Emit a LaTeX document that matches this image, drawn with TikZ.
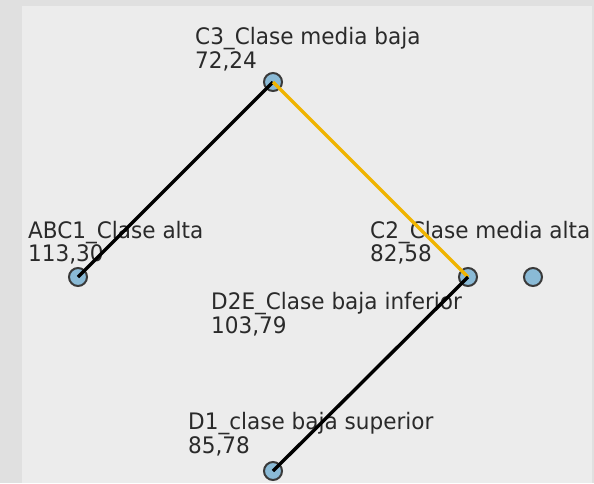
\documentclass[tikz,border=0pt]{standalone}
\usepackage{fontspec}
\setmainfont{DejaVu Sans}
\newfontfamily\lblfont[FakeStretch=0.95]{DejaVu Sans}
\definecolor{outerbg}{HTML}{E0E0E0}
\definecolor{innerbg}{HTML}{ECECEC}
\definecolor{dotfill}{HTML}{8ABAD6}
\definecolor{dotline}{HTML}{3A3A3A}
\definecolor{linkyellow}{HTML}{F0B400}
\definecolor{labeltext}{HTML}{2A2A2A}
\tikzset{
  dot/.style={circle, draw=dotline, line width=2pt, fill=dotfill, minimum size=18pt, inner sep=0pt},
  lbl/.style={anchor=north west, inner sep=0pt, align=left, text=labeltext,
    font=\lblfont\fontsize{22.7}{22}\selectfont},
  blacklink/.style={line width=3.4pt, black},
  yellowlink/.style={line width=3.2pt, linkyellow},
}
\begin{document}
\begin{tikzpicture}[x=1pt, y=-1pt]
  \useasboundingbox (0,0) rectangle (594,483);
  \fill[outerbg] (0,0) rectangle (594,483);
  \fill[innerbg] (22,6) rectangle (592,483);
  % nodes
  \node[dot] (c3) at (273,82) {};
  \node[dot] (abc1) at (78,277) {};
  \node[dot] (c2) at (468,277) {};
  \node[dot] (d2e) at (533,277) {};
  \node[dot] (d1) at (273,471) {};
  % labels
  \node[lbl] (lc3) at (195,27.5) {C3\_Clase media baja\\72,24};
  \node[lbl] (labc1) at (28,221) {ABC1\_Clase alta\\113,30};
  \node[lbl] (lc2) at (370,221) {C2\_Clase media alta\\82,58};
  \node[lbl] (ld2e) at (211,292.5) {D2E\_Clase baja inferior\\103,79};
  \node[lbl] (ld1) at (188,412.5) {D1\_clase baja superior\\85,78};
  % links
  \draw[blacklink] (c3.center) -- (abc1.center);
  \draw[yellowlink] (c3.center) -- (c2.center);
  \draw[blacklink] (c2.center) -- (d1.center);
\end{tikzpicture}
\end{document}
